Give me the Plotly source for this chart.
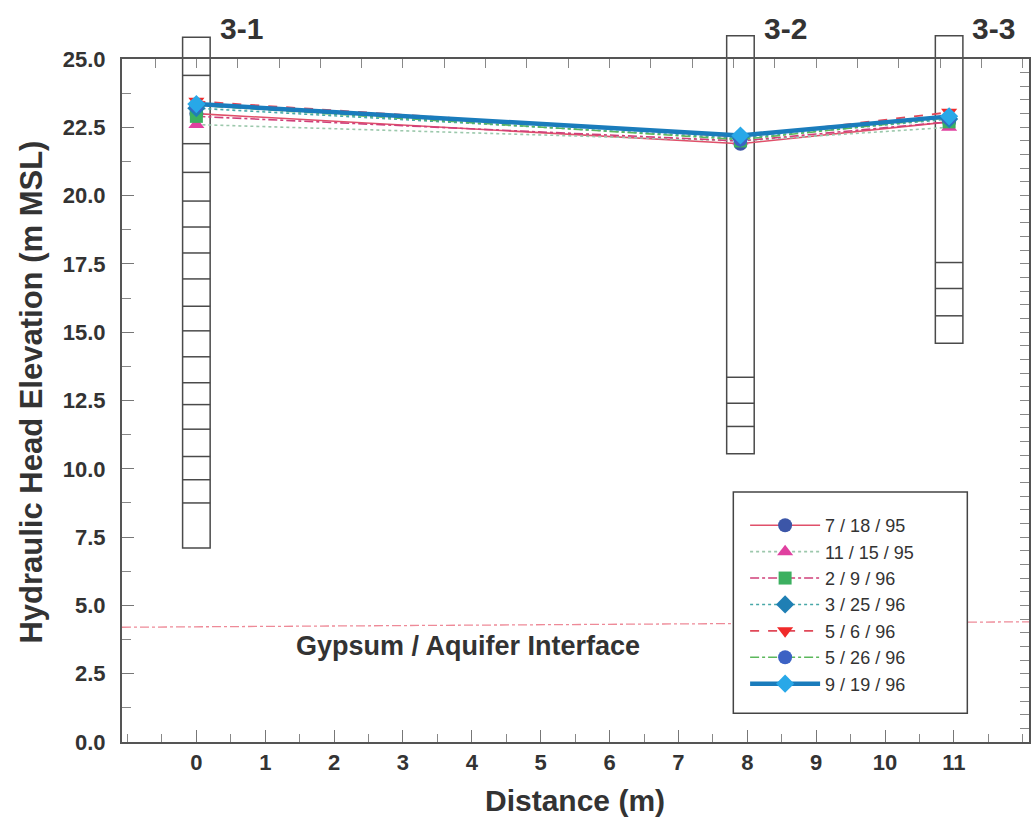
import plotly.graph_objects as go

# Monitoring wells along the transect
well_names = ["3-1", "3-2", "3-3"]
well_distance = [0.0, 7.9, 10.93]          # m along the transect
well_top = [25.8, 25.85, 25.85]            # top of casing (m MSL)
well_bottom = [7.1, 10.55, 14.6]           # bottom of well (m MSL)
well_marks = [
    [24.4, 21.9, 20.85, 19.8, 18.85, 17.9, 16.95, 15.95, 15.05, 14.1,
     13.15, 12.35, 11.45, 10.45, 9.6, 8.75],
    [13.35, 12.4, 11.55],
    [17.55, 16.6, 15.6],
]

# Hydraulic head per survey date at wells 3-1, 3-2, 3-3 (m MSL)
dates = ["7 / 18 / 95", "11 / 15 / 95", "2 / 9 / 96", "3 / 25 / 96",
         "5 / 6 / 96", "5 / 26 / 96", "9 / 19 / 96"]
head_071895 = [23.0, 21.9, 22.7]
head_111595 = [22.6, 22.0, 22.5]
head_020996 = [22.9, 22.0, 22.7]
head_032596 = [23.2, 22.1, 22.8]
head_050696 = [23.45, 22.15, 23.05]
head_052696 = [23.3, 22.05, 22.85]
head_091996 = [23.35, 22.2, 22.9]
heads = [head_071895, head_111595, head_020996, head_032596,
         head_050696, head_052696, head_091996]

# Gypsum / aquifer interface elevation at the two ends of the section
interface_x = [-1.08, 12.09]
interface_y = [4.2, 4.4]

x_ticks = list(range(0, 12))
y_ticks = [0.0, 2.5, 5.0, 7.5, 10.0, 12.5, 15.0, 17.5, 20.0, 22.5, 25.0]

X_RANGE = [-1.08, 12.09]
Y_RANGE = [0.0, 25.0]

styles = [
    dict(line=dict(color="#e0506a", width=1.6, dash="solid"),
         marker=dict(symbol="circle", color="#3c56a8", size=14)),
    dict(line=dict(color="#9cc8ac", width=1.6, dash="dot"),
         marker=dict(symbol="triangle-up", color="#e040a0", size=14)),
    dict(line=dict(color="#d0407a", width=1.6, dash="dashdot"),
         marker=dict(symbol="square", color="#3cb060", size=13)),
    dict(line=dict(color="#48a8a8", width=1.6, dash="dot"),
         marker=dict(symbol="diamond", color="#1f7fb4", size=14)),
    dict(line=dict(color="#e04858", width=1.8, dash="dash"),
         marker=dict(symbol="triangle-down", color="#f02a2a", size=14)),
    dict(line=dict(color="#5cb85c", width=1.6, dash="dashdot"),
         marker=dict(symbol="circle", color="#3c62c4", size=14)),
    dict(line=dict(color="#1a7cbc", width=4.5, dash="solid"),
         marker=dict(symbol="diamond", color="#28a8e8", size=14)),
]

TEXT = "#333333"
AXIS = "#555555"
FONT = "Liberation Sans, Arial, sans-serif"


def to_paper_y(v):
    return (v - Y_RANGE[0]) / (Y_RANGE[1] - Y_RANGE[0])


fig = go.Figure()

# interface line
fig.add_trace(go.Scatter(
    x=interface_x, y=interface_y, mode="lines",
    line=dict(color="#ee8a98", width=1.3, dash="dashdot"),
    showlegend=False, hoverinfo="skip"))

for name, ys, st in zip(dates, heads, styles):
    fig.add_trace(go.Scatter(
        x=well_distance, y=ys, name=name, mode="lines+markers",
        line=st["line"], marker=st["marker"], cliponaxis=False))

# carrier trace for the mirrored top/right tick axes
fig.add_trace(go.Scatter(x=[None], y=[None], xaxis="x2", yaxis="y2",
                         showlegend=False, hoverinfo="skip"))

shapes = []
annotations = []
half_w = 0.2
for name, xc, top, bot, marks in zip(well_names, well_distance, well_top,
                                     well_bottom, well_marks):
    shapes.append(dict(type="rect", xref="x", yref="paper",
                       x0=xc - half_w, x1=xc + half_w,
                       y0=to_paper_y(bot), y1=to_paper_y(top),
                       line=dict(color="#4a4a4a", width=1.5),
                       fillcolor="rgba(0,0,0,0)", layer="below"))
    for m in marks:
        shapes.append(dict(type="line", xref="x", yref="paper",
                           x0=xc - half_w, x1=xc + half_w,
                           y0=to_paper_y(m), y1=to_paper_y(m),
                           line=dict(color="#4a4a4a", width=1.5),
                           layer="below"))
    annotations.append(dict(text=name, xref="x", yref="paper",
                            x=xc + 0.65, y=1.045, showarrow=False,
                            xanchor="center", yanchor="middle",
                            font=dict(family=FONT, size=30, color=TEXT,
                                      weight="bold")))

# legend frame
shapes.append(dict(type="rect", xref="paper", yref="paper",
                   x0=0.674, x1=0.932, y0=0.042, y1=0.366,
                   line=dict(color="#444444", width=1.5),
                   fillcolor="white", layer="above"))

annotations += [
    dict(text="Gypsum / Aquifer Interface", xref="x", yref="y",
         x=3.95, y=3.5, showarrow=False, xanchor="center",
         yanchor="middle",
         font=dict(family=FONT, size=27, color=TEXT, weight="bold")),
    dict(text="Distance (m)", xref="paper", yref="paper",
         x=0.4995, y=-0.086, showarrow=False, xanchor="center",
         yanchor="middle",
         font=dict(family=FONT, size=30, color=TEXT, weight="bold")),
    dict(text="Hydraulic Head Elevation (m MSL)", xref="paper",
         yref="paper", x=-0.1, y=0.512, showarrow=False,
         textangle=-90, xanchor="center", yanchor="middle",
         font=dict(family=FONT, size=31, color=TEXT, weight="bold")),
]

fig.update_layout(
    width=1031, height=820,
    margin=dict(l=122, r=2, t=59, b=78),
    paper_bgcolor="white", plot_bgcolor="white",
    font=dict(family=FONT, color=TEXT),
    shapes=shapes, annotations=annotations,
    showlegend=True,
    legend=dict(x=0.687, y=0.344, xanchor="left", yanchor="top",
                bgcolor="rgba(0,0,0,0)", borderwidth=0,
                font=dict(family=FONT, size=18, color=TEXT),
                itemwidth=70, tracegroupgap=0),
    xaxis=dict(range=X_RANGE, tickmode="array", tickvals=x_ticks,
               ticktext=[str(v) for v in x_ticks],
               ticks="inside", ticklen=12, tickwidth=1.2,
               tickcolor="#777777",
               minor=dict(dtick=0.5, tick0=0, ticks="inside", ticklen=8,
                          tickwidth=1.2, tickcolor="#888888"),
               showline=True, linecolor=AXIS, linewidth=2,
               showgrid=False, zeroline=False,
               tickfont=dict(family=FONT, size=22, color=TEXT,
                             weight="bold"),
               ticklabelstandoff=0),
    yaxis=dict(range=Y_RANGE, tickmode="array", tickvals=y_ticks,
               ticktext=[f"{v:.1f}" for v in y_ticks],
               ticks="inside", ticklen=12, tickwidth=1.2,
               tickcolor="#777777",
               minor=dict(dtick=1.25, tick0=0, ticks="inside", ticklen=9,
                          tickwidth=1.2, tickcolor="#888888"),
               showline=True, linecolor=AXIS, linewidth=2,
               showgrid=False, zeroline=False,
               tickfont=dict(family=FONT, size=22, color=TEXT,
                             weight="bold"),
               ticklabelstandoff=10),
    xaxis2=dict(range=X_RANGE, overlaying="x", side="top", anchor="y2",
                tick0=0, dtick=0.6, ticks="inside", ticklen=9,
                tickwidth=1.2, tickcolor="#888888",
                showticklabels=False, showline=True, linecolor=AXIS,
                linewidth=2, showgrid=False, zeroline=False),
    yaxis2=dict(range=Y_RANGE, overlaying="y", side="right", anchor="x2",
                tick0=0, dtick=0.5, ticks="inside", ticklen=9,
                tickwidth=1.2, tickcolor="#888888",
                showticklabels=False, showline=True, linecolor=AXIS,
                linewidth=2, showgrid=False, zeroline=False),
)

fig.write_html("out.html")
